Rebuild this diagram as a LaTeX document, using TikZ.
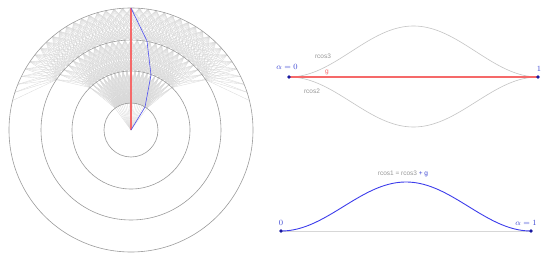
\documentclass[tikz,border=0pt]{standalone}
\usepackage{fontspec}
\setsansfont{Liberation Sans}
\definecolor{dotblue}{RGB}{25,25,160}
\definecolor{lblblue}{RGB}{60,70,210}
\definecolor{curveblue}{RGB}{60,60,235}
\definecolor{pathblue}{RGB}{80,80,240}
\definecolor{pathred}{RGB}{245,105,105}
\definecolor{circgray}{RGB}{155,155,155}
\definecolor{fangray}{RGB}{215,215,215}
\definecolor{bellgray}{RGB}{195,195,195}
\definecolor{lblgray}{RGB}{150,150,150}
\tikzset{
  fanline/.style={draw=fangray, line width=0.3pt},
  ring/.style={draw=circgray, line width=0.6pt},
  redline/.style={draw=pathred, line width=1.2pt},
  dot/.style={circle, fill=dotblue, inner sep=0pt, minimum size=3.6pt},
  mathlbl/.style={text=lblblue, font=\fontsize{8}{9}\selectfont, inner sep=0pt},
  sanslbl/.style={text=lblgray, font=\sffamily\fontsize{6.5}{7}\selectfont, inner sep=0pt}
}
\begin{document}
\begin{tikzpicture}[x=1pt,y=-1pt]
\useasboundingbox (0,0) rectangle (550,260);
\def\cx{131}\def\cy{130}
% ---- fan of paths
\foreach \i in {-9,...,9}
  \draw[fanline] (\cx,\cy) -- ({\cx+27*sin(4*\i)},{\cy-27*cos(4*\i)});
\foreach \ri/\ro/\ni/\no in {27/59/9/11, 59/90/11/14, 90/122/14/19}{
  \foreach \i in {-\ni,...,\ni}{
    \foreach \d in {-5,...,5}{
      \pgfmathtruncatemacro\j{\i+\d}
      \ifnum\j<-\no\relax\else\ifnum\j>\no\relax\else
        \draw[fanline] ({\cx+\ri*sin(4*\i)},{\cy-\ri*cos(4*\i)}) -- ({\cx+\ro*sin(4*\j)},{\cy-\ro*cos(4*\j)});
      \fi\fi
    }
  }
}
% ---- rings
\foreach \r in {27,59,90,122}
  \draw[ring] (\cx,\cy) circle[radius=\r];
% ---- paths
\coordinate (o) at (\cx,\cy);
\coordinate (top) at (\cx,8);
\coordinate (b1) at (145,107);
\coordinate (b2) at (151,75);
\coordinate (b3) at (147,41);
\draw[redline] (o) -- (top);
\draw[draw=pathblue, line width=0.6pt] (o) -- (b1) -- (b2) -- (b3) -- (top);
% ---- top right
\draw[draw=bellgray, line width=0.6pt] plot[domain=0:1, samples=80] ({289+249*\x},{77-25.5*(1-cos(360*\x))});
\draw[draw=bellgray, line width=0.6pt] plot[domain=0:1, samples=80] ({289+249*\x},{77+25*(1-cos(360*\x))});
\coordinate (a0) at (289,77);
\coordinate (a1) at (538,77);
\draw[redline] (a0) -- (a1);
\node[dot] (d0) at (a0) {};
\node[dot] (d1) at (a1) {};
\node[mathlbl] (l0) at (287,67) {$\alpha = 0$};
\node[mathlbl] (l1) at (539,69) {$1$};
\node[sanslbl] (rc3) at (323,56) {rcos3};
\node[sanslbl, text=pathred] (g) at (327,72) {g};
\node[sanslbl] (rc2) at (312,91) {rcos2};
% ---- bottom right
\coordinate (c0) at (281,231);
\coordinate (c1) at (531,231);
\draw[draw=fangray, line width=0.6pt] (c0) -- (c1);
\draw[draw=curveblue, line width=0.9pt] plot[domain=0:1, samples=80] ({281+250*\x},{231-24.5*(1-cos(360*\x))});
\node[dot] (e0) at (c0) {};
\node[dot] (e1) at (c1) {};
\node[mathlbl] (m0) at (281,223) {$0$};
\node[mathlbl] (m1) at (526,223) {$\alpha = 1$};
\node[sanslbl] (eq) at (403,174) {rcos1 = rcos3 \textcolor{lblblue}{+ g}};
\end{tikzpicture}
\end{document}
